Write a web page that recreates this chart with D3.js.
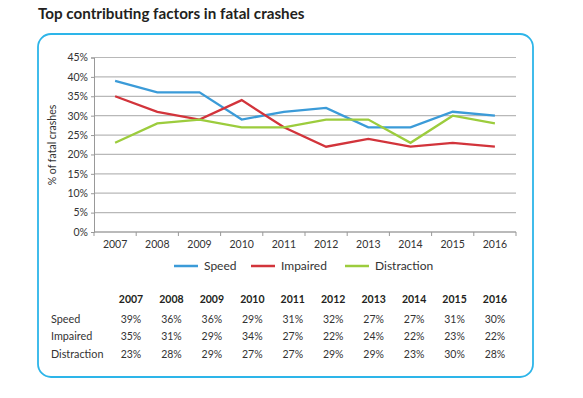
<!DOCTYPE html>
<html>
<head>
<meta charset="utf-8">
<script src="https://cdn.jsdelivr.net/npm/d3@7"></script>
<style>
  body { margin: 0; background: #fff; }
  svg { font-family: Lato, "Open Sans", sans-serif; }
</style>
</head>
<body>
<svg id="chart" width="583" height="398"></svg>
<script>
// data
var years = ['2007', '2008', '2009', '2010', '2011', '2012', '2013', '2014', '2015', '2016'];
var speed = [39, 36, 36, 29, 31, 32, 27, 27, 31, 30];
var impaired = [35, 31, 29, 34, 27, 22, 24, 22, 23, 22];
var distraction = [23, 28, 29, 27, 27, 29, 29, 23, 30, 28];
var yTicks = [0, 5, 10, 15, 20, 25, 30, 35, 40, 45];

var series = [
  {name: 'Speed', values: speed, color: '#3b9bd8'},
  {name: 'Impaired', values: impaired, color: '#d2343b'},
  {name: 'Distraction', values: distraction, color: '#9ccc3d'}
];

var svg = d3.select('#chart');

svg.append('text')
    .attr('x', 38).attr('y', 19)
    .attr('font-size', 15.2).attr('font-weight', 'bold')
    .attr('fill', '#231f20')
    .text('Top contributing factors in fatal crashes');

// rounded frame
svg.append('rect')
    .attr('x', 38).attr('y', 34)
    .attr('width', 495).attr('height', 343)
    .attr('rx', 13)
    .attr('fill', 'none')
    .attr('stroke', '#2db5e9')
    .attr('stroke-width', 1.8);

var x = d3.scaleBand().domain(years).range([94, 516]);
var y = d3.scaleLinear().domain([0, 45]).range([232, 57.5]);

// gridlines
svg.append('g').selectAll('line').data(yTicks).enter().append('line')
    .attr('x1', 94).attr('x2', 516)
    .attr('y1', function (d) { return y(d); })
    .attr('y2', function (d) { return y(d); })
    .attr('stroke', '#b8b8b8')
    .attr('stroke-width', 1.2);

// y axis
var yAxis = svg.append('g')
    .attr('transform', 'translate(94,0)')
    .call(d3.axisLeft(y).tickValues(yTicks).tickSize(3).tickFormat(function (d) { return d + '%'; }));
yAxis.select('.domain').attr('stroke', '#999');
yAxis.selectAll('.tick line').attr('stroke', '#999');
yAxis.selectAll('text').attr('font-size', 10.5).attr('fill', '#333')
    .attr('font-family', 'Lato, "Open Sans", sans-serif');

// x axis
var xTickPos = years.map(function (d) { return x(d); }).concat([516]);
var xAxis = svg.append('g').attr('transform', 'translate(0,' + y(0) + ')');
xAxis.append('line').attr('x1', 94).attr('x2', 516).attr('stroke', '#999');
xAxis.selectAll('line.tk').data(xTickPos).enter().append('line')
    .attr('class', 'tk')
    .attr('x1', function (d) { return d; }).attr('x2', function (d) { return d; })
    .attr('y1', 0).attr('y2', 4)
    .attr('stroke', '#999');
xAxis.selectAll('text').data(years).enter().append('text')
    .attr('x', function (d) { return x(d) + x.bandwidth() / 2; })
    .attr('y', 16)
    .attr('text-anchor', 'middle')
    .attr('font-size', 10.5).attr('fill', '#333')
    .text(function (d) { return d; });

svg.append('text')
    .attr('transform', 'translate(56,145) rotate(-90)')
    .attr('text-anchor', 'middle')
    .attr('font-size', 10.5).attr('fill', '#333')
    .text('% of fatal crashes');

// lines
var line = d3.line()
    .x(function (d, i) { return x(years[i]) + x.bandwidth() / 2; })
    .y(function (d) { return y(d); });

svg.append('g').selectAll('path').data(series).enter().append('path')
    .attr('d', function (d) { return line(d.values); })
    .attr('fill', 'none')
    .attr('stroke', function (d) { return d.color; })
    .attr('stroke-width', 2.3);

// legend
var legendX = [174, 251, 345];
var lg = svg.append('g').selectAll('g').data(series).enter().append('g')
    .attr('transform', function (d, i) { return 'translate(' + legendX[i] + ',266)'; });
lg.append('line').attr('x1', 0).attr('x2', 24)
    .attr('stroke', function (d) { return d.color; })
    .attr('stroke-width', 2.5);
lg.append('text').attr('x', 30).attr('y', 4)
    .attr('font-size', 12).attr('fill', '#333')
    .text(function (d) { return d.name; });

// data table
var colX = d3.scalePoint().domain(years).range([131, 495]);
var table = svg.append('g');
table.selectAll('text.hd').data(years).enter().append('text')
    .attr('class', 'hd')
    .attr('x', function (d) { return colX(d); })
    .attr('y', 303)
    .attr('text-anchor', 'middle')
    .attr('font-size', 10.5).attr('font-weight', 'bold').attr('fill', '#231f20')
    .text(function (d) { return d; });

var rowY = [323, 340, 358];
series.forEach(function (s, r) {
  table.append('text')
      .attr('x', 51).attr('y', rowY[r])
      .attr('font-size', 10.8).attr('fill', '#333')
      .text(s.name);
  table.selectAll('text.r' + r).data(s.values).enter().append('text')
      .attr('class', 'r' + r)
      .attr('x', function (d, i) { return colX(years[i]); })
      .attr('y', rowY[r])
      .attr('text-anchor', 'middle')
      .attr('font-size', 10.5).attr('fill', '#333')
      .text(function (d) { return d + '%'; });
});
</script>
</body>
</html>
